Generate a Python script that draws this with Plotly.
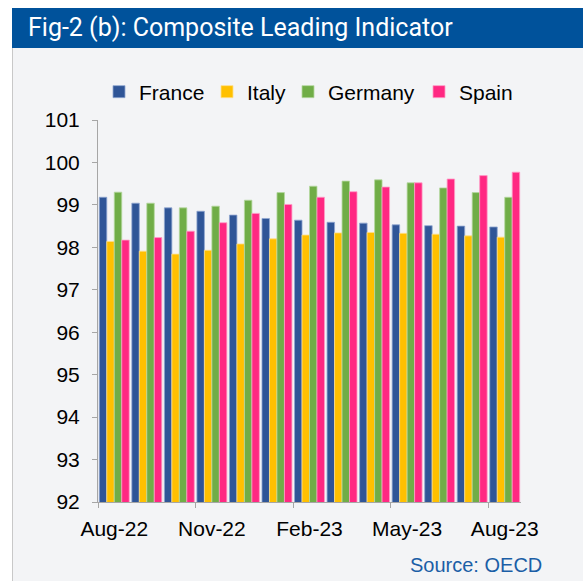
import plotly.graph_objects as go

months = ["Aug-22", "Sep-22", "Oct-22", "Nov-22", "Dec-22", "Jan-23", "Feb-23",
          "Mar-23", "Apr-23", "May-23", "Jun-23", "Jul-23", "Aug-23"]
france = [99.18, 99.04, 98.93, 98.85, 98.76, 98.68, 98.64, 98.59, 98.57, 98.53, 98.51, 98.50, 98.48]
italy = [98.14, 97.91, 97.84, 97.93, 98.08, 98.20, 98.29, 98.34, 98.35, 98.33, 98.31, 98.27, 98.24]
germany = [99.30, 99.04, 98.93, 98.97, 99.11, 99.29, 99.44, 99.56, 99.59, 99.52, 99.40, 99.29, 99.18]
spain = [98.17, 98.23, 98.38, 98.58, 98.80, 99.01, 99.18, 99.31, 99.42, 99.52, 99.61, 99.69, 99.77]

series = [("France", france, "#2f5597", "#8fa6d0"),
          ("Italy", italy, "#ffc000", "#ffe08a"),
          ("Germany", germany, "#70ad47", "#b5d8a0"),
          ("Spain", spain, "#ff2882", "#ff9cc6")]

W, H = 583, 581
L, R, T, B = 98, 62, 120, 79
pw, ph = W - L - R, H - T - B

def px(x):
    return (x - L) / pw

def py(y):
    return (H - B - y) / ph

font = "Liberation Sans, Arial, sans-serif"
legend_x = [99, 207, 288, 419]

fig = go.Figure()
legends = {}
for i, (name, vals, col, edge) in enumerate(series):
    lname = "legend" if i == 0 else f"legend{i+1}"
    fig.add_trace(go.Bar(x=months, y=vals, name=name, legend=lname,
                         marker=dict(color=col, line=dict(color=edge, width=0.8))))
    legends[lname] = dict(orientation="h", x=px(legend_x[i]), xanchor="left",
                          y=py(92), yanchor="middle",
                          font=dict(family=font, size=21, color="#000000"),
                          bgcolor="rgba(0,0,0,0)", itemwidth=30)

shapes = [
    dict(type="rect", xref="paper", yref="paper", x0=px(12), x1=px(583), y0=py(48), y1=py(581),
         fillcolor="#f3f4f6", line=dict(width=0), layer="below"),
    dict(type="line", xref="paper", yref="paper", x0=px(12.5), x1=px(12.5), y0=py(48), y1=py(581),
         line=dict(color="#c8c8c8", width=1), layer="below"),
    dict(type="rect", xref="paper", yref="paper", x0=px(12), x1=px(583), y0=py(8), y1=py(48),
         fillcolor="#00529b", line=dict(width=0), layer="below"),
]

fig.update_layout(
    width=W, height=H,
    margin=dict(l=L, r=R, t=T, b=B, pad=0),
    paper_bgcolor="white", plot_bgcolor="rgba(0,0,0,0)",
    barmode="group", bargap=0.08, bargroupgap=0,
    shapes=shapes,
    showlegend=True,
    annotations=[
        dict(text="Fig-2 (b): Composite Leading Indicator", xref="paper", yref="paper",
             x=px(26), y=py(27), xanchor="left", yanchor="middle", showarrow=False,
             font=dict(family="Roboto, sans-serif", size=25, color="white")),
        dict(text="Source: OECD", xref="paper", yref="paper",
             x=px(544), y=py(565), xanchor="right", yanchor="middle", showarrow=False,
             font=dict(family=font, size=20, color="#1b5ea6")),
    ],
    xaxis=dict(type="category", tickmode="linear", tick0=0, dtick=3, tickson="boundaries",
               tickangle=0, automargin=False,
               ticks="outside", ticklen=5, tickcolor="#a6a6a6", showline=True, linecolor="#a6a6a6",
               showgrid=False, tickfont=dict(family=font, size=21, color="#000000"),
               ticklabelstandoff=8, range=[-0.5, 12.5]),
    yaxis=dict(range=[92, 101], dtick=1, ticks="outside", ticklen=5, tickcolor="#a6a6a6",
               automargin=False,
               showline=True, linecolor="#a6a6a6", showgrid=False, zeroline=False,
               tickfont=dict(family=font, size=21, color="#000000"), ticklabelstandoff=8),
    **legends,
)

fig.write_html("out.html", config={"displayModeBar": False},
               post_script="document.body.style.margin='0';document.body.style.overflow='hidden';")
